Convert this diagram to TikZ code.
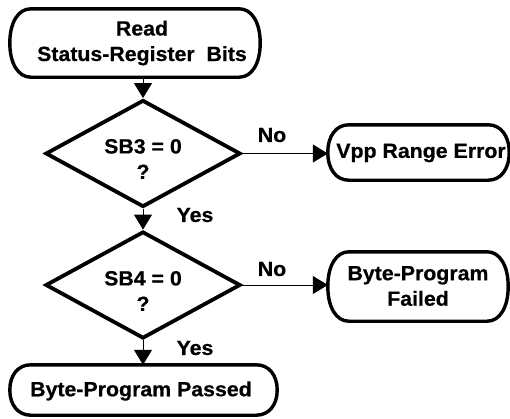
\documentclass[tikz,border=0pt]{standalone}
\usepackage{fontspec}
\setmainfont{Liberation Sans}[FakeStretch=1.04, BoldFeatures={FakeBold=0.6}]
\usetikzlibrary{shapes.geometric,arrows.meta,calc}
\newcommand\termoutline[1]{%
  \draw[termline] ([xshift=21pt]#1.north west) -- ([xshift=-21pt]#1.north east)
    .. controls ([xshift=-8.4pt]#1.north east) and ($(#1.east)!0.6!(#1.north east)$) .. (#1.east)
    .. controls ($(#1.east)!0.6!(#1.south east)$) and ([xshift=-8.4pt]#1.south east) .. ([xshift=-21pt]#1.south east)
    -- ([xshift=21pt]#1.south west)
    .. controls ([xshift=8.4pt]#1.south west) and ($(#1.west)!0.6!(#1.south west)$) .. (#1.west)
    .. controls ($(#1.west)!0.6!(#1.north west)$) and ([xshift=8.4pt]#1.north west) .. ([xshift=21pt]#1.north west) -- cycle;}
\begin{document}
\begin{tikzpicture}[x=1pt,y=-1pt,
  term/.style={rectangle, inner sep=0pt},
  termline/.style={draw=black, line width=3.4pt, line join=round},
  decis/.style={draw=black, line width=3.8pt, diamond, inner sep=0pt, minimum width=195pt, minimum height=107pt},
  txt/.style={font=\fontsize{20.5}{25.5}\selectfont\bfseries, align=center, inner sep=0pt},
  lbl/.style={font=\fontsize{20.5}{25.5}\selectfont\bfseries, inner sep=0pt},
  conn/.style={draw=black, line width=1pt, -{Triangle[length=15pt,width=18pt]}}]
\useasboundingbox (0,0) rectangle (510,418);
% shapes
\node[term, minimum width=250pt, minimum height=68pt] (read) at (135,43) {};
\termoutline{read}
\node[txt] (readtxt) at (142,43) {Read\\Status-Register\ \ Bits};
\node[decis] (d1) at (143,153.5) {};
\node[txt] (d1txt) at (143,159) {SB3 = 0\\?};
\node[decis] (d2) at (143,285) {};
\node[txt] (d2txt) at (143,291) {SB4 = 0\\?};
\node[term, minimum width=267pt, minimum height=50pt] (passed) at (143.5,390) {};
\termoutline{passed}
\node[txt] (passedtxt) at (141,391) {Byte-Program Passed};
\node[term, minimum width=181pt, minimum height=55pt] (vpp) at (418.5,152.5) {};
\termoutline{vpp}
\node[txt] (vpptxt) at (421,153) {Vpp Range Error};
\node[term, minimum width=180pt, minimum height=69pt] (failed) at (418,286.5) {};
\termoutline{failed}
\node[txt] (failedtxt) at (418,286) {Byte-Program\\Failed};
% connectors
\draw[conn] (d1.north |- read.south) -- (d1.north);
\draw[conn] (d1.south) -- (d2.north);
\draw[conn] (d2.south) -- (d2.south |- passed.north);
\draw[conn] (d1.east) -- (d1.east -| vpp.west);
\draw[conn] (d2.east) -- (d2.east -| failed.west);
% labels
\node[lbl] (no1) at (272,135) {No};
\node[lbl] (no2) at (272,269) {No};
\node[lbl] (yes1) at (195,215) {Yes};
\node[lbl] (yes2) at (195,348) {Yes};
\end{tikzpicture}
\end{document}
